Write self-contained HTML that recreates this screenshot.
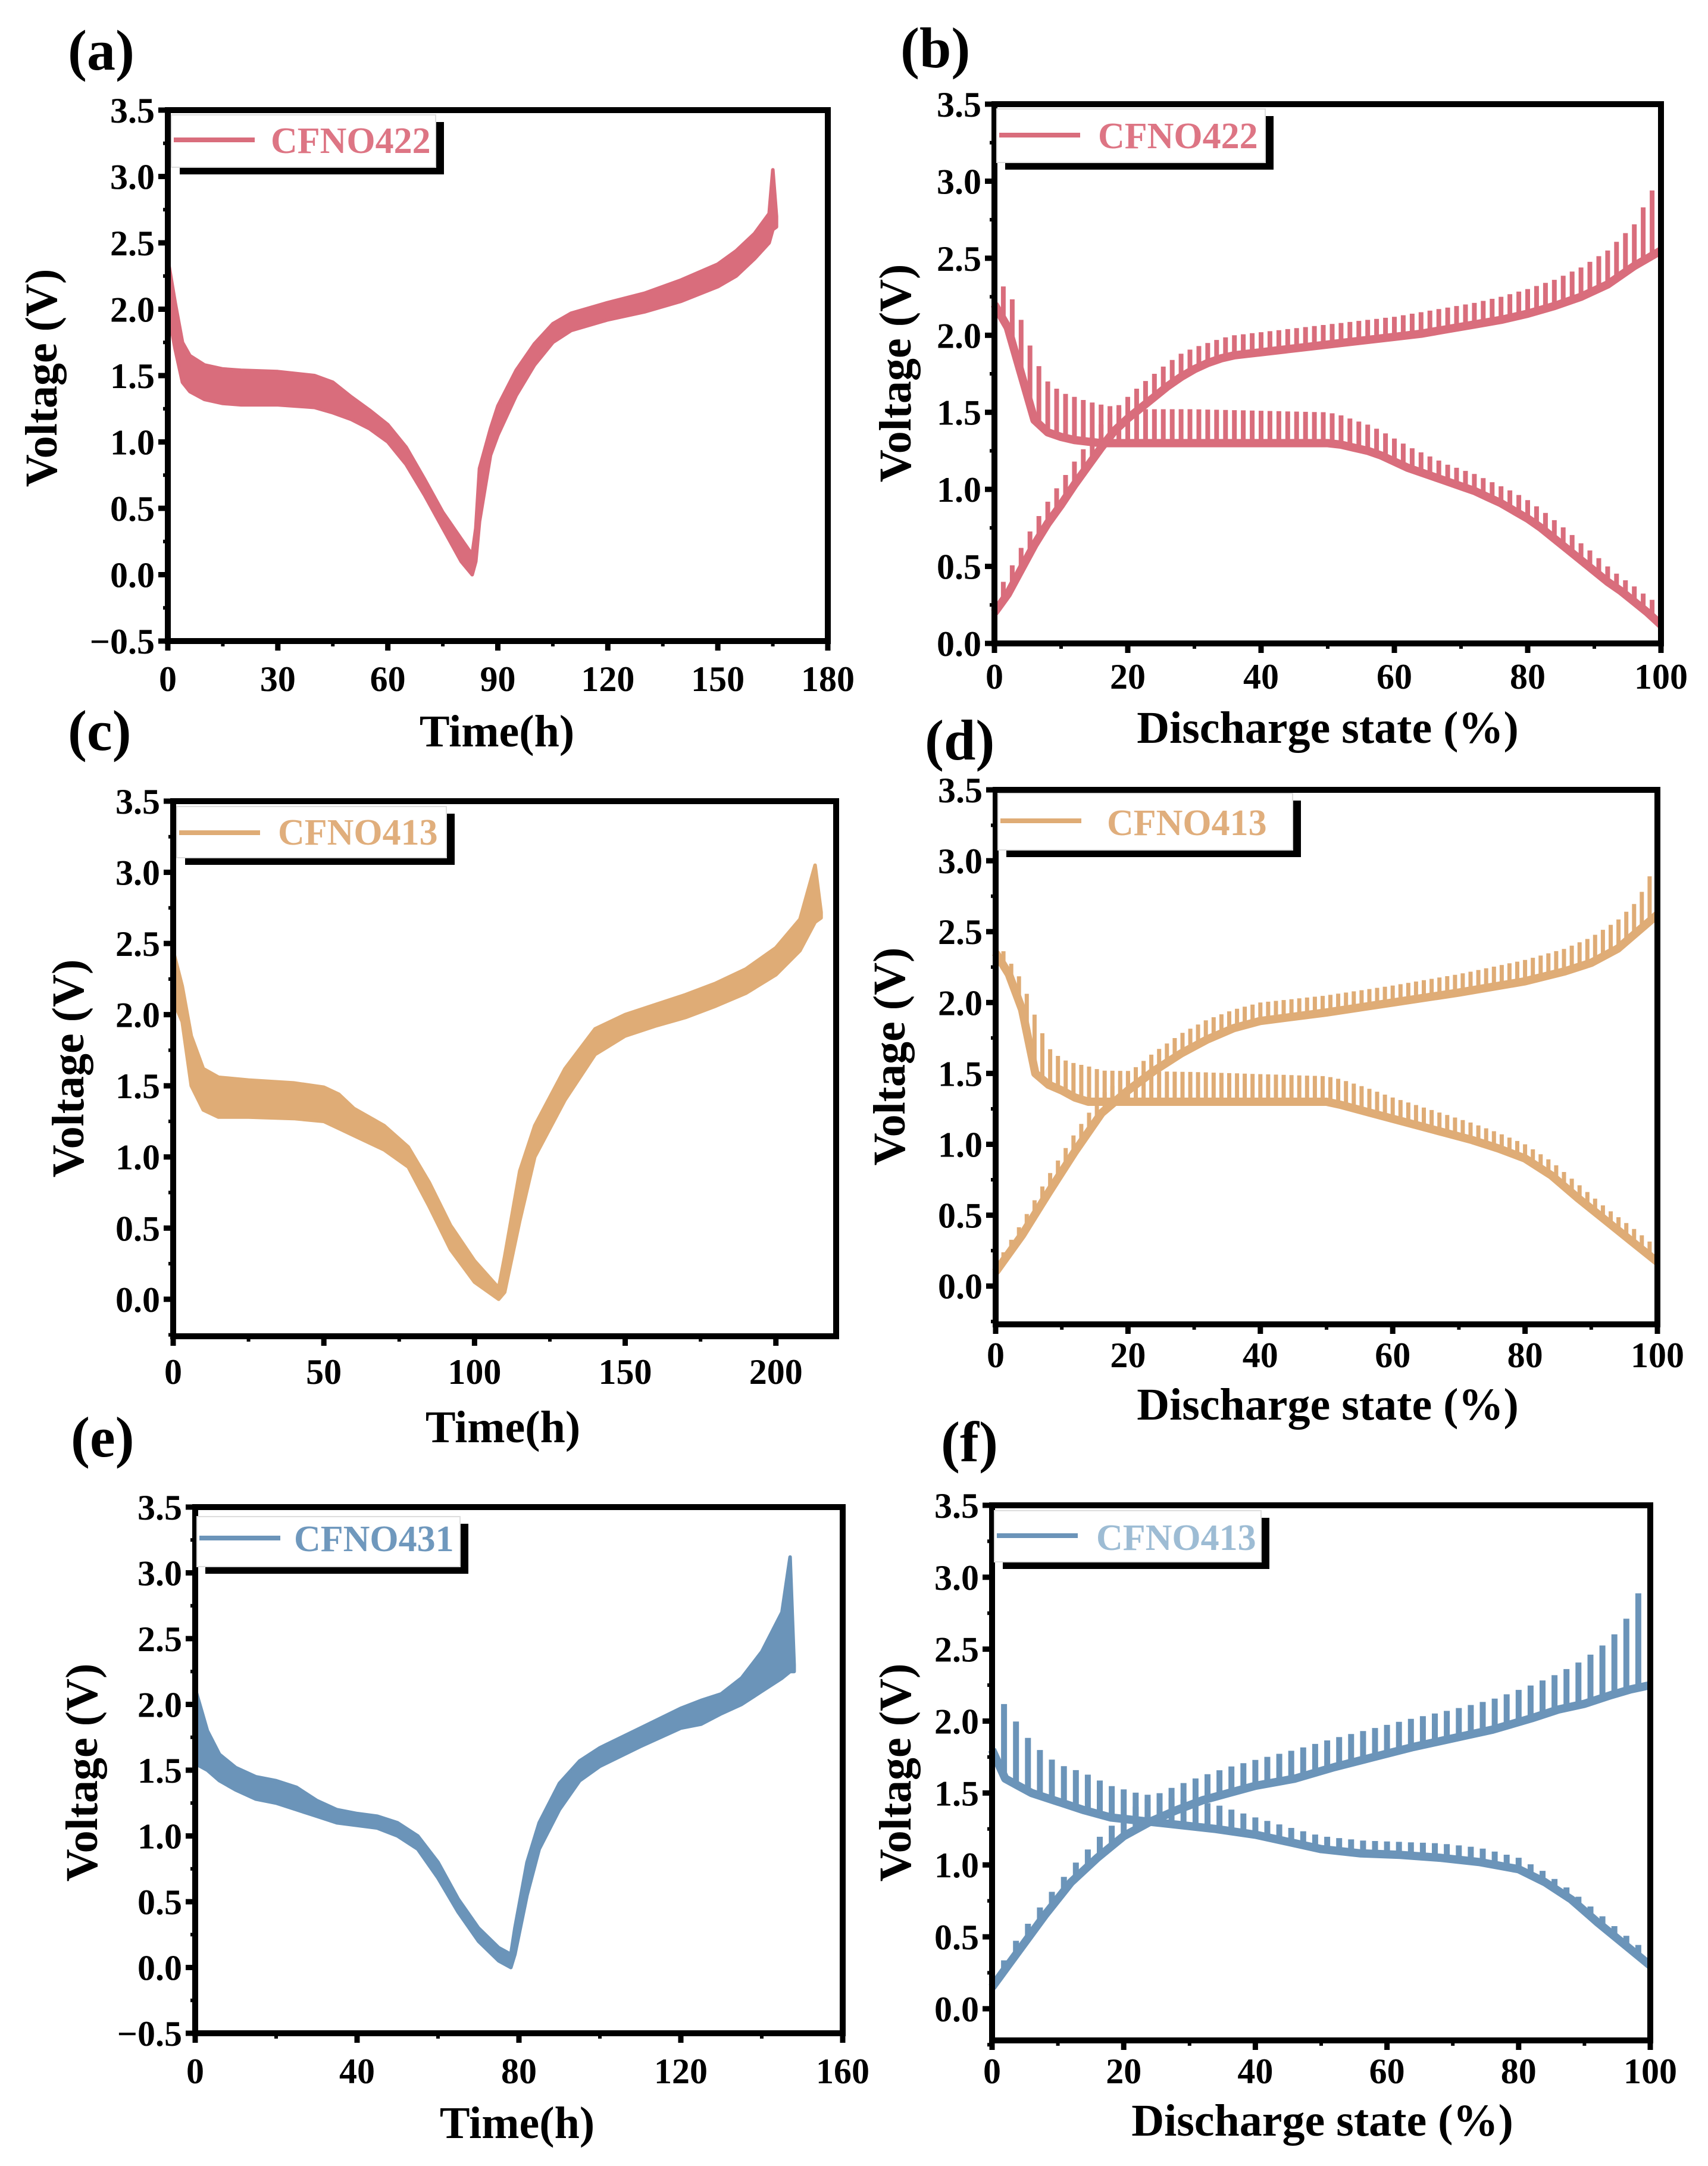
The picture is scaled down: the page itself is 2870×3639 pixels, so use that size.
<!DOCTYPE html>
<html><head><meta charset="utf-8"><style>
html,body{margin:0;padding:0;background:#fff;}
svg{display:block;}
text{font-family:"Liberation Serif","DejaVu Serif",serif;font-weight:bold;}
</style></head><body>
<svg id="fig" width="2870" height="3639" viewBox="0 0 2870 3639" xmlns="http://www.w3.org/2000/svg" font-family="Liberation Serif, serif" font-weight="bold"></svg>
<script>
// ---------- Panel (a) CFNO422 time profile: band envelopes ----------
const aTime  = [0,2,4,6,10,15,20,30,40,45,50,55,60,65,70,75,80,83,84,85,88,90,95,100,105,110,120,130,140,150,155,160,164,165,166];
const aUpper = [2.38,2.05,1.75,1.65,1.58,1.55,1.54,1.53,1.50,1.45,1.34,1.24,1.13,0.96,0.72,0.47,0.27,0.15,0.35,0.8,1.1,1.27,1.54,1.74,1.89,1.97,2.05,2.12,2.22,2.34,2.44,2.57,2.72,3.05,2.70];
const aLower = [2.00,1.70,1.45,1.38,1.32,1.29,1.28,1.28,1.26,1.22,1.17,1.10,1.00,0.83,0.60,0.35,0.10,0.00,0.10,0.4,0.9,1.05,1.35,1.58,1.75,1.84,1.92,1.98,2.06,2.17,2.25,2.38,2.50,2.60,2.62];
// ---------- Panel (c) CFNO413 time profile ----------
const cTime  = [0,3,6,10,15,25,40,50,55,60,70,78,85,92,100,108,110,115,120,130,140,150,160,170,180,190,200,208,213,215];
const cUpper = [2.45,2.20,1.85,1.62,1.56,1.54,1.52,1.49,1.44,1.34,1.22,1.07,0.82,0.52,0.27,0.08,0.30,0.90,1.22,1.62,1.90,2.00,2.07,2.14,2.22,2.32,2.47,2.67,3.05,2.72];
const cLower = [2.10,1.95,1.50,1.33,1.28,1.28,1.27,1.25,1.20,1.15,1.05,0.93,0.65,0.35,0.12,0.00,0.05,0.55,1.00,1.40,1.72,1.85,1.92,1.98,2.06,2.15,2.28,2.45,2.65,2.68];
// ---------- Panel (e) CFNO431 time profile ----------
const eTime  = [0,3,6,10,15,20,25,30,35,40,45,50,55,60,65,70,75,78,79,82,85,90,95,100,110,120,125,130,135,140,145,147,148];
const eUpper = [2.12,1.80,1.62,1.52,1.45,1.42,1.37,1.27,1.20,1.17,1.15,1.10,1.00,0.80,0.52,0.30,0.15,0.10,0.30,0.80,1.10,1.40,1.57,1.67,1.82,1.97,2.03,2.08,2.20,2.40,2.70,3.12,2.30];
const eLower = [1.55,1.50,1.42,1.35,1.28,1.25,1.20,1.15,1.10,1.08,1.06,1.00,0.90,0.68,0.42,0.20,0.05,0.00,0.10,0.55,0.90,1.20,1.42,1.53,1.68,1.82,1.85,1.93,2.00,2.10,2.20,2.25,2.25];
// ---------- Panel (b) CFNO422 discharge-state profile ----------
const bDisX  = [0,2,4,6,8,10,12,14,16,20,30,40,50,52,54,56,58,60,62,64,66,68,70,72,74,76,78,80,82,84,86,88,90,92,94,96,98,100];
const bDisHi = [2.35,2.30,2.10,1.85,1.70,1.63,1.60,1.57,1.55,1.52,1.52,1.51,1.50,1.48,1.45,1.42,1.38,1.33,1.28,1.24,1.20,1.16,1.13,1.10,1.06,1.02,0.98,0.93,0.87,0.80,0.73,0.65,0.58,0.50,0.43,0.37,0.30,0.25];
const bDisLo = [2.20,2.05,1.75,1.45,1.37,1.34,1.32,1.31,1.30,1.30,1.30,1.30,1.30,1.29,1.27,1.25,1.22,1.18,1.14,1.11,1.08,1.05,1.02,0.99,0.95,0.91,0.86,0.81,0.75,0.68,0.61,0.54,0.47,0.40,0.34,0.27,0.20,0.12];
const bChgX  = [0,2,4,6,8,10,12,14,16,18,20,22,24,26,28,30,32,34,36,38,40,44,48,52,56,60,64,68,72,76,80,84,88,92,96,100];
const bChgHi = [0.30,0.45,0.62,0.78,0.92,1.05,1.18,1.30,1.42,1.52,1.60,1.68,1.75,1.82,1.88,1.92,1.95,1.98,2.00,2.01,2.02,2.04,2.06,2.08,2.10,2.12,2.15,2.18,2.21,2.25,2.30,2.36,2.44,2.55,2.72,3.05];
const bChgLo = [0.20,0.32,0.48,0.64,0.78,0.90,1.03,1.15,1.27,1.38,1.46,1.53,1.60,1.67,1.73,1.78,1.82,1.85,1.87,1.88,1.89,1.91,1.93,1.95,1.97,1.99,2.01,2.04,2.07,2.10,2.14,2.19,2.25,2.33,2.45,2.55];
// ---------- Panel (d) CFNO413 discharge-state profile ----------
const dDisX  = [0,2,4,6,8,10,12,14,16,30,50,52,56,60,64,68,72,76,80,84,88,92,96,100];
const dDisHi = [2.45,2.30,2.15,1.90,1.68,1.60,1.57,1.55,1.52,1.51,1.48,1.46,1.40,1.33,1.27,1.21,1.15,1.08,1.00,0.88,0.72,0.56,0.42,0.27];
const dDisLo = [2.35,2.20,1.95,1.50,1.42,1.38,1.33,1.30,1.30,1.30,1.30,1.28,1.23,1.18,1.13,1.08,1.03,0.97,0.90,0.78,0.62,0.47,0.32,0.17];
const dChgX  = [0,4,8,12,16,20,24,28,32,36,40,50,60,70,80,86,90,94,97,100];
const dChgHi = [0.15,0.45,0.78,1.08,1.35,1.50,1.65,1.78,1.88,1.95,2.00,2.05,2.12,2.20,2.30,2.38,2.46,2.58,2.72,3.00];
const dChgLo = [0.10,0.36,0.66,0.95,1.22,1.38,1.52,1.64,1.74,1.82,1.87,1.93,2.00,2.07,2.15,2.22,2.28,2.38,2.50,2.62];
// ---------- Panel (f) CFNO431 discharge-state profile ----------
const fDisX  = [0,2,4,6,8,10,14,18,22,26,30,34,40,46,50,56,62,68,74,80,84,88,92,96,100];
const fDisHi = [2.10,2.12,1.97,1.85,1.77,1.70,1.64,1.55,1.50,1.47,1.45,1.42,1.33,1.25,1.20,1.17,1.16,1.15,1.12,1.05,0.95,0.82,0.67,0.52,0.38];
const fDisLo = [1.80,1.60,1.55,1.50,1.47,1.44,1.38,1.33,1.31,1.29,1.27,1.25,1.21,1.15,1.11,1.08,1.07,1.05,1.02,0.97,0.88,0.76,0.60,0.45,0.30];
const fChgX  = [0,4,8,12,16,20,24,28,32,36,40,46,52,58,64,70,76,82,86,90,94,97,100];
const fChgHi = [0.20,0.50,0.75,0.98,1.18,1.35,1.47,1.55,1.62,1.68,1.73,1.80,1.88,1.95,2.02,2.08,2.15,2.25,2.33,2.43,2.57,2.75,3.10];
const fChgLo = [0.15,0.40,0.65,0.88,1.05,1.20,1.30,1.38,1.45,1.50,1.55,1.60,1.68,1.75,1.82,1.88,1.94,2.02,2.08,2.12,2.18,2.22,2.25];
// ---------- Tick labels ----------
const yTicksFull = [-0.5,0,0.5,1,1.5,2,2.5,3,3.5];
const yTicksPos  = [0,0.5,1,1.5,2,2.5,3,3.5];
const aXTicks = [0,30,60,90,120,150,180];
const cXTicks = [0,50,100,150,200];
const eXTicks = [0,40,80,120,160];
const pctTicks = [0,20,40,60,80,100];

const NS='http://www.w3.org/2000/svg';
const svg=document.getElementById('fig');
function mk(tag,attrs,parent){const e=document.createElementNS(NS,tag);for(const k in attrs)e.setAttribute(k,attrs[k]);(parent||svg).appendChild(e);return e;}
function interp(xs,ys,x){if(x<=xs[0])return ys[0];for(let i=1;i<xs.length;i++){if(x<=xs[i]){const t=(x-xs[i-1])/(xs[i]-xs[i-1]);return ys[i-1]+t*(ys[i]-ys[i-1]);}}return ys[ys.length-1];}

function panel(p){
  const g=mk('g',{});
  
  
  const sx=v=>p.L+(v-p.xmin)/(p.xmax-p.xmin)*(p.R-p.L);
  const sy=v=>p.B-(v-p.ymin)/(p.ymax-p.ymin)*(p.B-p.T);
  const dg=mk('g',{},g);
  
  
  if(p.band){
    let d='';
    p.band.x.forEach((x,i)=>{d+=(i?'L':'M')+sx(x).toFixed(1)+' '+sy(p.band.hi[i]).toFixed(1);});
    for(let i=p.band.x.length-1;i>=0;i--)d+='L'+sx(p.band.x[i]).toFixed(1)+' '+sy(p.band.lo[i]).toFixed(1);
    d+='Z';
    const b=mk('path',{d:d,fill:p.color,stroke:p.color,'stroke-width':6,'stroke-linejoin':'round'},dg);
    
    
  }
  if(p.saw){
    p.saw.forEach((c,ci)=>{
      let d='';
      const N=p.teeth;
      for(let k=0;k<=N;k++){
        const x=c.x[0]+(c.x[c.x.length-1]-c.x[0])*k/N;
        const lo=interp(c.x,c.lo,x),hi=interp(c.x,c.hi,x);
        d+='M'+sx(x).toFixed(1)+' '+sy(lo).toFixed(1)+'L'+sx(x).toFixed(1)+' '+sy(hi).toFixed(1);
      }
      const s=mk('path',{d:d,fill:'none',stroke:p.color,'stroke-width':p.toothW,'stroke-linecap':'butt'},dg);
      
      
      let d2='';
      c.x.forEach((x,i)=>{d2+=(i?'L':'M')+sx(x).toFixed(1)+' '+sy(c.lo[i]).toFixed(1);});
      const l=mk('path',{d:d2,fill:'none',stroke:p.color,'stroke-width':14,'stroke-linejoin':'round'},dg);
      
      
    });
  }
  const fr=mk('rect',{x:p.L,y:p.T,width:p.R-p.L,height:p.B-p.T,fill:'none',stroke:'#000','stroke-width':10},g);
  
  
  const yg=mk('g',{},g);
  
  
  p.yt.forEach(v=>{
    mk('line',{x1:p.L-16,x2:p.L,y1:sy(v),y2:sy(v),stroke:'#000','stroke-width':9},yg);
    const mv=v+0.25;
    if(mv<p.ymax)mk('line',{x1:p.L-8,x2:p.L,y1:sy(mv),y2:sy(mv),stroke:'#000','stroke-width':6},yg);
    const t=mk('text',{x:p.L-22,y:sy(v)+21,'font-size':60,'text-anchor':'end'},yg);
    t.textContent=(v<0?'\u2212':'')+Math.abs(v).toFixed(1);
    
    
  });
  if(p.yt[0]>p.ymin){mk('line',{x1:p.L-8,x2:p.L,y1:sy(p.yt[0]-0.25),y2:sy(p.yt[0]-0.25),stroke:'#000','stroke-width':6},yg);}
  const xg=mk('g',{},g);
  
  
  const step=p.xt[1]-p.xt[0];
  p.xt.forEach(v=>{
    mk('line',{x1:sx(v),x2:sx(v),y1:p.B,y2:p.B+16,stroke:'#000','stroke-width':9},xg);
    const mv=v+step/2;
    if(mv<p.xmax)mk('line',{x1:sx(mv),x2:sx(mv),y1:p.B,y2:p.B+9,stroke:'#000','stroke-width':6},xg);
    const t=mk('text',{x:sx(v),y:p.xlabY,'font-size':60,'text-anchor':'middle'},xg);
    t.textContent=String(v);
    
    
  });
  const xt=mk('text',{x:p.xTitleX,y:p.xTitleY,'font-size':76,'text-anchor':'middle'},g);
  xt.textContent=p.xTitle;
  
  
  const yt=mk('text',{x:0,y:0,'font-size':76,'text-anchor':'middle',transform:'translate('+(p.yTitleX+26)+','+p.yTitleY+') rotate(-90)'},g);
  yt.textContent='Voltage (V)';
  
  
  const pl=mk('text',{x:p.labX,y:p.labY,'font-size':96},g);
  pl.textContent='('+p.id+')';
  
  
  const lg=mk('g',{},g);
  
  
  const Lg=p.leg;
  mk('rect',{x:Lg.x1+14,y:Lg.y1+12,width:Lg.x2-Lg.x1,height:Lg.y2-Lg.y1,fill:'#000'},lg);
  mk('rect',{x:Lg.x1,y:Lg.y1,width:Lg.x2-Lg.x1,height:Lg.y2-Lg.y1,fill:'#fff',stroke:'#ddd','stroke-width':2},lg);
  const ll=mk('line',{x1:Lg.x1+4,x2:Lg.x1+140,y1:Lg.ly,y2:Lg.ly,stroke:p.color,'stroke-width':8},lg);
  
  
  const lt=mk('text',{x:Lg.tx,y:Lg.ty,'font-size':62,fill:p.legColor},lg);
  lt.textContent=p.name;
  
  
}

const pink='#d96d7c', tan='#dfac76', blue='#6b94b9';
panel({id:'a',name:'CFNO422',color:pink,legColor:'#dd7584',L:282,R:1391,T:185,B:1077,xmin:0,xmax:180,ymin:-0.5,ymax:3.5,
  yt:yTicksFull,xt:aXTicks,xlabY:1161,xTitle:'Time(h)',xTitleX:835,xTitleY:1254,yTitleX:69,yTitleY:635,labX:114,labY:117,
  leg:{x1:288,y1:193,x2:732,y2:281,ly:235,tx:455,ty:257},band:{x:aTime,hi:aUpper,lo:aLower}});
panel({id:'b',name:'CFNO422',color:pink,legColor:'#dd7584',L:1671,R:2791,T:175,B:1081,xmin:0,xmax:100,ymin:0,ymax:3.5,
  yt:yTicksPos,xt:pctTicks,xlabY:1157,xTitle:'Discharge state (%)',xTitleX:2231,xTitleY:1248,yTitleX:1504,yTitleY:627,labX:1513,labY:113,
  leg:{x1:1675,y1:183,x2:2126,y2:273,ly:227,tx:1845,ty:249},teeth:75,toothW:8,
  saw:[{x:bDisX,hi:bDisHi,lo:bDisLo},{x:bChgX,hi:bChgHi,lo:bChgLo}]});
panel({id:'c',name:'CFNO413',color:tan,legColor:'#e0ae7c',L:291,R:1405,T:1346,B:2245,xmin:0,xmax:220,ymin:-0.26,ymax:3.5,
  yt:yTicksPos,xt:cXTicks,xlabY:2325,xTitle:'Time(h)',xTitleX:845,xTitleY:2423,yTitleX:114,yTitleY:1795,labX:114,labY:1260,
  leg:{x1:297,y1:1355,x2:750,y2:1441,ly:1399,tx:467,ty:1419},band:{x:cTime,hi:cUpper,lo:cLower}});
panel({id:'d',name:'CFNO413',color:tan,legColor:'#e0ae7c',L:1673,R:2785,T:1327,B:2225,xmin:0,xmax:100,ymin:-0.27,ymax:3.5,
  yt:yTicksPos,xt:pctTicks,xlabY:2297,xTitle:'Discharge state (%)',xTitleX:2231,xTitleY:2385,yTitleX:1494,yTitleY:1775,labX:1554,labY:1276,
  leg:{x1:1677,y1:1333,x2:2172,y2:1428,ly:1379,tx:1860,ty:1403},teeth:85,toothW:7,
  saw:[{x:dDisX,hi:dDisHi,lo:dDisLo},{x:dChgX,hi:dChgHi,lo:dChgLo}]});
panel({id:'e',name:'CFNO431',color:blue,legColor:'#6f98bd',L:328,R:1416,T:2532,B:3416,xmin:0,xmax:160,ymin:-0.5,ymax:3.5,
  yt:yTicksFull,xt:eXTicks,xlabY:3500,xTitle:'Time(h)',xTitleX:869,xTitleY:3592,yTitleX:137,yTitleY:2978,labX:119,labY:2447,
  leg:{x1:331,y1:2548,x2:773,y2:2632,ly:2584,tx:494,ty:2606},band:{x:eTime,hi:eUpper,lo:eLower}});
panel({id:'f',name:'CFNO413',color:blue,legColor:'#9dbcd4',L:1667,R:2773,T:2529,B:3428,xmin:0,xmax:100,ymin:-0.22,ymax:3.5,
  yt:yTicksPos,xt:pctTicks,xlabY:3500,xTitle:'Discharge state (%)',xTitleX:2222,xTitleY:3588,yTitleX:1504,yTitleY:2978,labX:1581,labY:2455,
  leg:{x1:1671,y1:2538,x2:2119,y2:2624,ly:2580,tx:1842,ty:2604},teeth:55,toothW:10,
  saw:[{x:fDisX,hi:fDisHi,lo:fDisLo},{x:fChgX,hi:fChgHi,lo:fChgLo}]});
</script>
</body></html>
